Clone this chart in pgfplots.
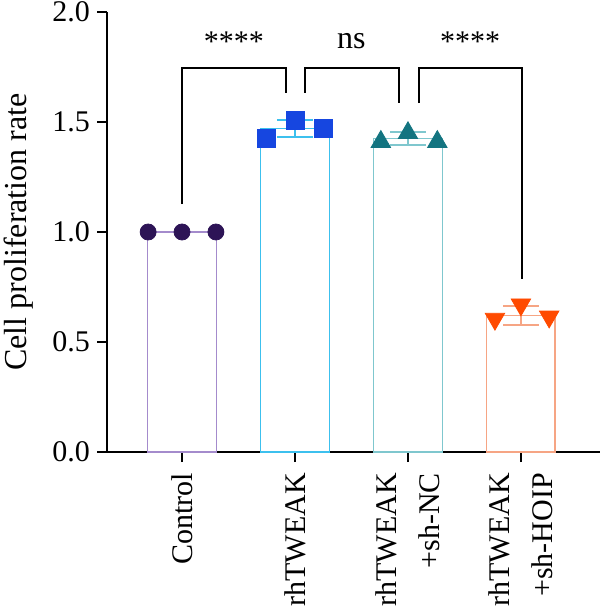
\documentclass[border=0pt]{standalone}
\usepackage{fontspec}
\setmainfont{Liberation Serif}
\usepackage{pgfplots}
\pgfplotsset{compat=1.18}
\definecolor{cedge}{HTML}{A48BCC}
\definecolor{cmark}{HTML}{2D1456}
\definecolor{tedge}{HTML}{3CC0EE}
\definecolor{tmark}{HTML}{1646E0}
\definecolor{nedge}{HTML}{7FC7CE}
\definecolor{nmark}{HTML}{137480}
\definecolor{hedge}{HTML}{F6A584}
\definecolor{hmark}{HTML}{FF4A00}
\begin{document}
\begin{tikzpicture}
\begin{axis}[
 scale only axis, width=246.5pt, height=220pt,
 xmin=-0.664, xmax=3.7, ymin=0, ymax=2,
 axis x line*=bottom, axis y line*=left,
 axis line style={line width=0.8pt, -},
 xtick={0,1,2,3},
 xticklabels={Control, rhTWEAK, rhTWEAK\\+sh-NC, rhTWEAK\\+sh-HOIP},
 xticklabel style={rotate=90, anchor=east, align=right, font=\fontsize{15}{21.5}\selectfont},
 xticklabel shift=2pt,
 ytick={0,0.5,1,1.5,2},
 yticklabel style={/pgf/number format/.cd, fixed, fixed zerofill, precision=1},
 tick align=outside, major tick length=5pt,
 tick style={line width=0.8pt, black},
 ylabel={Cell proliferation rate},
 ylabel style={at={(axis description cs:-0.18,0.5)}, anchor=center, font=\fontsize{16}{19}\selectfont},
 font=\fontsize{15}{18}\selectfont,
 /pgf/number format/assume math mode=true,
 clip=false,
]
% bars
\addplot[ybar, bar width=0.61, bar shift=0pt, draw=cedge, fill=white, line width=0.9pt] coordinates {(0,1.0)};
\addplot[ybar, bar width=0.61, bar shift=0pt, draw=tedge, fill=white, line width=0.9pt,
 error bars/.cd, y dir=both, y explicit, error bar style={tedge, line width=0.9pt},
 error mark options={tedge, line width=0.9pt, mark size=9pt, rotate=90}] coordinates {(1,1.47) +- (0,0.04)};
\addplot[ybar, bar width=0.61, bar shift=0pt, draw=nedge, fill=white, line width=0.9pt,
 error bars/.cd, y dir=both, y explicit, error bar style={nedge, line width=0.9pt},
 error mark options={nedge, line width=0.9pt, mark size=9pt, rotate=90}] coordinates {(2,1.425) +- (0,0.03)};
\addplot[ybar, bar width=0.61, bar shift=0pt, draw=hedge, fill=white, line width=0.9pt,
 error bars/.cd, y dir=both, y explicit, error bar style={hedge, line width=0.9pt},
 error mark options={hedge, line width=0.9pt, mark size=9pt, rotate=90}] coordinates {(3,0.62) +- (0,0.043)};
% points
\addplot[only marks, mark=*, mark size=4pt, color=cmark] coordinates {(-0.3,1.0) (0,1.0) (0.3,1.0)};
\addplot[only marks, mark=square*, mark size=4.5pt, color=tmark] coordinates {(0.75,1.427) (1.0,1.509) (1.25,1.473)};
\addplot[only marks, mark=triangle*, mark size=5.6pt, color=nmark] coordinates {(1.76,1.41) (2.0,1.45) (2.26,1.41)};
\addplot[only marks, mark=triangle*, mark size=5.6pt, color=hmark, mark options={rotate=180}] coordinates {(2.77,0.605) (3.0,0.67) (3.25,0.615)};
% significance brackets
\draw[line width=0.8pt] (axis cs:0,1.127) |- (axis cs:0.92,1.745) -- (axis cs:0.92,1.632);
\draw[line width=0.8pt] (axis cs:1.09,1.632) |- (axis cs:1.92,1.745) -- (axis cs:1.92,1.586);
\draw[line width=0.8pt] (axis cs:2.10,1.586) |- (axis cs:3.01,1.745) -- (axis cs:3.01,0.786);
\node[anchor=base] at (axis cs:0.46,1.82) {****};
\node[anchor=base, font=\fontsize{16}{19}\selectfont] at (axis cs:1.5,1.836) {ns};
\node[anchor=base] at (axis cs:2.55,1.82) {****};
\end{axis}
\pgfresetboundingbox
\useasboundingbox (-53.5pt,-81pt) rectangle (246.5pt,226pt);
\end{tikzpicture}
\end{document}
